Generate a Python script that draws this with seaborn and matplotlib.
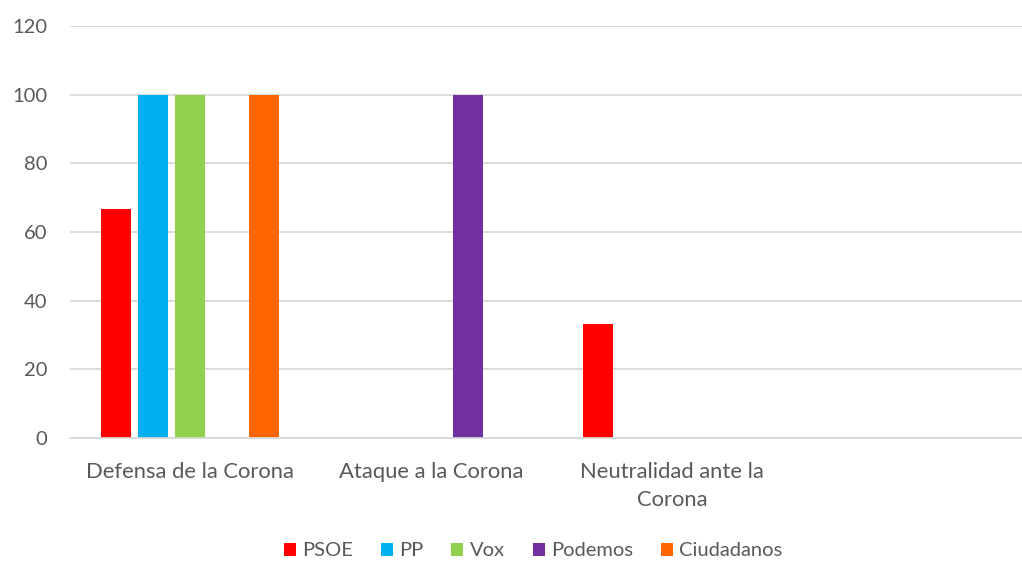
import matplotlib
matplotlib.use("Agg")
import matplotlib.pyplot as plt
import seaborn as sns
import pandas as pd

categories = ["Defensa de la Corona", "Ataque a la Corona", "Neutralidad ante la\nCorona", ""]
parties = ["PSOE", "PP", "Vox", "Podemos", "Ciudadanos"]
psoe = [66.67, 0, 33.33, 0]
pp = [100, 0, 0, 0]
vox = [100, 0, 0, 0]
podemos = [0, 100, 0, 0]
ciudadanos = [100, 0, 0, 0]
colors = ["#FF0000", "#00B0F0", "#92D050", "#7030A0", "#FF6600"]

series = {"PSOE": psoe, "PP": pp, "Vox": vox, "Podemos": podemos, "Ciudadanos": ciudadanos}
rows = []
for p in parties:
    for c, v in zip(categories, series[p]):
        rows.append({"cat": c, "party": p, "val": v})
df = pd.DataFrame(rows)

sns.set_theme(style="white")
plt.rcParams["font.family"] = ["Lato", "DejaVu Sans"]

fig = plt.figure(figsize=(10.22, 5.61), dpi=100)
ax = fig.add_axes([69.5 / 1022, 0.2193, 964 / 1022, 0.7344])
sns.barplot(data=df, x="cat", y="val", hue="party", order=categories, hue_order=parties,
            palette=colors, gap=0.2, width=0.77, linewidth=0, saturation=1, ax=ax,
            errorbar=None)

ax.set_ylim(0, 120)
ax.set_xlim(-0.5, 3.5)
ax.set_yticks([0, 20, 40, 60, 80, 100, 120])
ax.yaxis.grid(True, color="#D9D9D9", linewidth=1.3)
ax.set_axisbelow(True)
for s in ["top", "right", "left"]:
    ax.spines[s].set_visible(False)
ax.spines["bottom"].set_color("#D9D9D9")
ax.spines["bottom"].set_linewidth(1.3)
ax.set_xlabel("")
ax.set_ylabel("")
ax.tick_params(axis="y", length=0, pad=16, labelsize=14.5, labelcolor="#595959")
ax.tick_params(axis="x", length=0, pad=17, labelsize=15.8, labelcolor="#595959")
for t in ax.get_xticklabels():
    t.set_linespacing(1.5)

handles, labels = ax.get_legend_handles_labels()
ax.get_legend().remove()
fig.legend(handles, labels, loc="center", bbox_to_anchor=(533 / 1022, 0.018), ncol=5,
           frameon=False, fontsize=14.5, handlelength=0.6, handleheight=0.6,
           handletextpad=0.3, columnspacing=1.4, labelcolor="#595959",
           borderpad=0, borderaxespad=0)

fig.savefig("out.png", dpi=100)
